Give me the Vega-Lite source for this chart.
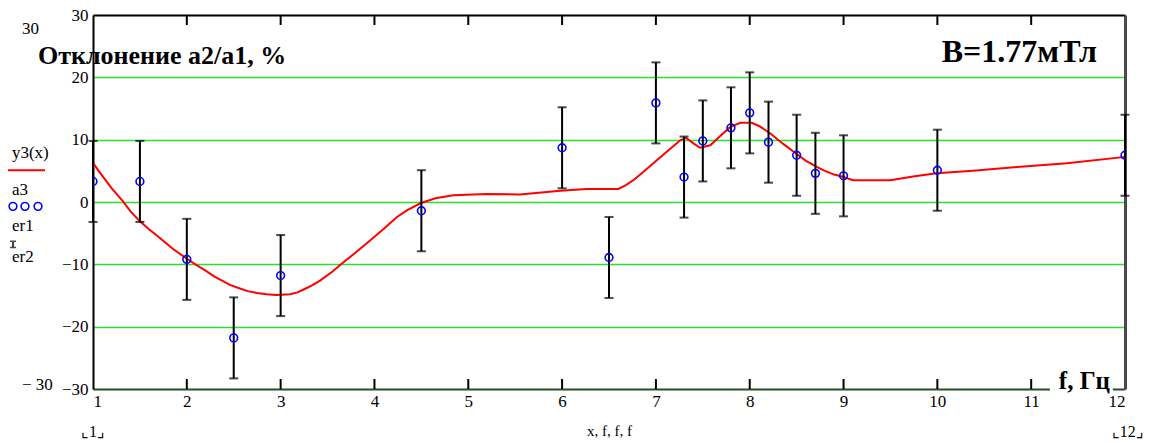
{
  "$schema": "https://vega.github.io/schema/vega-lite/v6.json",
  "width": 1032,
  "height": 374,
  "autosize": "none",
  "padding": {"left": 93, "top": 15, "right": 30, "bottom": 54},
  "background": "white",
  "config": {
    "view": {"stroke": null},
    "font": "Liberation Serif",
    "axis": {"labelFont": "Liberation Serif", "titleFont": "Liberation Serif", "labelColor": "black", "titleColor": "black"}
  },
  "datasets": {
    "curve": [
      {"x": 1.0, "y": 6.3}, {"x": 1.05, "y": 5.2}, {"x": 1.1, "y": 4.2}, {"x": 1.2, "y": 2.2}, {"x": 1.32, "y": 0.1},
      {"x": 1.4, "y": -1.5}, {"x": 1.5, "y": -3.1}, {"x": 1.6, "y": -4.4}, {"x": 1.7, "y": -5.6}, {"x": 1.85, "y": -7.5},
      {"x": 2.0, "y": -9.1}, {"x": 2.1, "y": -10.1}, {"x": 2.2, "y": -11.0}, {"x": 2.3, "y": -12.0}, {"x": 2.46, "y": -13.3},
      {"x": 2.55, "y": -13.8}, {"x": 2.65, "y": -14.3}, {"x": 2.75, "y": -14.6}, {"x": 2.85, "y": -14.8}, {"x": 2.95, "y": -14.9},
      {"x": 3.1, "y": -14.8}, {"x": 3.18, "y": -14.5}, {"x": 3.25, "y": -14.0}, {"x": 3.33, "y": -13.4}, {"x": 3.42, "y": -12.6},
      {"x": 3.55, "y": -11.2}, {"x": 3.65, "y": -9.9}, {"x": 3.8, "y": -8.1}, {"x": 3.95, "y": -6.2}, {"x": 4.1, "y": -4.3},
      {"x": 4.24, "y": -2.4}, {"x": 4.35, "y": -1.3}, {"x": 4.49, "y": -0.2}, {"x": 4.65, "y": 0.6}, {"x": 4.84, "y": 1.1},
      {"x": 5.2, "y": 1.3}, {"x": 5.55, "y": 1.2}, {"x": 5.98, "y": 1.8}, {"x": 6.26, "y": 2.1},
      {"x": 6.6, "y": 2.1}, {"x": 6.68, "y": 2.7}, {"x": 6.76, "y": 3.5}, {"x": 6.88, "y": 5.0}, {"x": 7.01, "y": 6.7},
      {"x": 7.15, "y": 8.5}, {"x": 7.26, "y": 9.9}, {"x": 7.32, "y": 10.3}, {"x": 7.4, "y": 9.4}, {"x": 7.47, "y": 8.7},
      {"x": 7.58, "y": 9.1}, {"x": 7.68, "y": 10.5}, {"x": 7.79, "y": 12.0}, {"x": 7.9, "y": 12.7}, {"x": 8.02, "y": 12.7},
      {"x": 8.1, "y": 12.2}, {"x": 8.22, "y": 11.0}, {"x": 8.35, "y": 9.4}, {"x": 8.5, "y": 7.7}, {"x": 8.6, "y": 6.6},
      {"x": 8.72, "y": 5.6}, {"x": 8.8, "y": 5.0}, {"x": 8.9, "y": 4.4},
      {"x": 9.0, "y": 4.0}, {"x": 9.1, "y": 3.5}, {"x": 9.5, "y": 3.5}, {"x": 9.74, "y": 4.1},
      {"x": 9.99, "y": 4.6}, {"x": 10.38, "y": 5.0}, {"x": 10.85, "y": 5.6}, {"x": 11.38, "y": 6.2},
      {"x": 11.98, "y": 7.2}, {"x": 12.0, "y": 7.3}
    ],
    "pts": [
      {"f": 1, "a3": 3.3, "er1": -3.2, "er2": 9.8},
      {"f": 1.5, "a3": 3.3, "er1": -3.2, "er2": 9.8},
      {"f": 2, "a3": -9.2, "er1": -15.7, "er2": -2.7},
      {"f": 2.5, "a3": -21.8, "er1": -28.3, "er2": -15.3},
      {"f": 3, "a3": -11.8, "er1": -18.3, "er2": -5.3},
      {"f": 4.5, "a3": -1.4, "er1": -7.9, "er2": 5.1},
      {"f": 6, "a3": 8.7, "er1": 2.2, "er2": 15.2},
      {"f": 6.5, "a3": -8.9, "er1": -15.4, "er2": -2.4},
      {"f": 7, "a3": 15.9, "er1": 9.4, "er2": 22.4},
      {"f": 7.3, "a3": 4.0, "er1": -2.5, "er2": 10.5},
      {"f": 7.5, "a3": 9.8, "er1": 3.3, "er2": 16.3},
      {"f": 7.8, "a3": 11.9, "er1": 5.4, "er2": 18.4},
      {"f": 8, "a3": 14.3, "er1": 7.8, "er2": 20.8},
      {"f": 8.2, "a3": 9.6, "er1": 3.1, "er2": 16.1},
      {"f": 8.5, "a3": 7.5, "er1": 1.0, "er2": 14.0},
      {"f": 8.7, "a3": 4.6, "er1": -1.9, "er2": 11.1},
      {"f": 9, "a3": 4.2, "er1": -2.3, "er2": 10.7},
      {"f": 10, "a3": 5.1, "er1": -1.4, "er2": 11.6},
      {"f": 12, "a3": 7.5, "er1": 1.0, "er2": 14.0}
    ]
  },
  "resolve": {"axis": {"x": "independent", "y": "independent"}},
  "layer": [
    {
      "data": {"name": "curve"},
      "mark": {"type": "line", "color": "#ff0000", "strokeWidth": 2, "clip": true},
      "encoding": {
        "x": {"field": "x", "type": "quantitative",
          "scale": {"domain": [1, 12], "nice": false, "zero": false},
          "axis": {"orient": "bottom", "values": [1,2,3,4,5,6,7,8,9,10,11,12], "format": "d",
            "domain": false, "ticks": false,
            "labelFontSize": 17, "labelPadding": 4, "grid": false,
            "title": "x, f, f, f", "titleFontSize": 15, "titleFontWeight": "normal", "titlePadding": 14}},
        "y": {"field": "y", "type": "quantitative",
          "scale": {"domain": [-30, 30], "nice": false, "zero": false},
          "axis": {"orient": "left", "values": [-30,-20,-10,0,10,20,30], "format": "d",
            "domainColor": "black", "domainWidth": 2, "ticks": false, "labelFontSize": 17, "labelPadding": 5,
            "grid": true,
            "gridWidth": {"condition": {"test": "abs(datum.value) >= 30", "value": 2}, "value": 1.5},
            "gridColor": {"condition": [
              {"test": "datum.value >= 30", "value": "black"},
              {"test": "datum.value <= -30", "value": "#264d26"}
            ], "value": "#2ee02e"},
            "title": null}}
      }
    },
    {
      "data": {"name": "pts"},
      "mark": {"type": "rule", "color": "black", "strokeWidth": 2},
      "encoding": {
        "x": {"field": "f", "type": "quantitative",
          "scale": {"domain": [1, 12], "nice": false, "zero": false}, "axis": null},
        "y": {"field": "er1", "type": "quantitative",
          "scale": {"domain": [-30, 30], "nice": false, "zero": false},
          "axis": {"orient": "right", "labels": false, "ticks": false, "title": null, "grid": false,
            "domainColor": "#4a4a4a", "domainWidth": 3}},
        "y2": {"field": "er2"}
      }
    },
    {
      "data": {"values": [
        {"x": 2, "y": -30, "y2": -28.4}, {"x": 3, "y": -30, "y2": -28.4}, {"x": 4, "y": -30, "y2": -28.4},
        {"x": 5, "y": -30, "y2": -28.4}, {"x": 6, "y": -30, "y2": -28.4}, {"x": 7, "y": -30, "y2": -28.4},
        {"x": 8, "y": -30, "y2": -28.4}, {"x": 9, "y": -30, "y2": -28.4}, {"x": 10, "y": -30, "y2": -28.4},
        {"x": 11, "y": -30, "y2": -28.4},
        {"x": 2, "y": 30, "y2": 28.4}, {"x": 3, "y": 30, "y2": 28.4}, {"x": 4, "y": 30, "y2": 28.4},
        {"x": 5, "y": 30, "y2": 28.4}, {"x": 6, "y": 30, "y2": 28.4}, {"x": 7, "y": 30, "y2": 28.4},
        {"x": 8, "y": 30, "y2": 28.4}, {"x": 9, "y": 30, "y2": 28.4}, {"x": 10, "y": 30, "y2": 28.4},
        {"x": 11, "y": 30, "y2": 28.4}
      ]},
      "mark": {"type": "rule", "color": "black", "strokeWidth": 2},
      "encoding": {
        "x": {"field": "x", "type": "quantitative", "scale": {"domain": [1, 12], "nice": false, "zero": false}, "axis": null},
        "y": {"field": "y", "type": "quantitative", "scale": {"domain": [-30, 30], "nice": false, "zero": false}, "axis": null},
        "y2": {"field": "y2"}
      }
    },
    {
      "data": {"name": "pts"},
      "mark": {"type": "tick", "orient": "horizontal", "color": "black", "size": 9, "thickness": 2},
      "encoding": {
        "x": {"field": "f", "type": "quantitative", "scale": {"domain": [1, 12], "nice": false, "zero": false}, "axis": null},
        "y": {"field": "er1", "type": "quantitative", "scale": {"domain": [-30, 30], "nice": false, "zero": false}, "axis": null}
      }
    },
    {
      "data": {"name": "pts"},
      "mark": {"type": "tick", "orient": "horizontal", "color": "black", "size": 9, "thickness": 2},
      "encoding": {
        "x": {"field": "f", "type": "quantitative", "scale": {"domain": [1, 12], "nice": false, "zero": false}, "axis": null},
        "y": {"field": "er2", "type": "quantitative", "scale": {"domain": [-30, 30], "nice": false, "zero": false}, "axis": null}
      }
    },
    {
      "data": {"name": "pts"},
      "mark": {"type": "point", "shape": "circle", "filled": false, "color": "#0000ff", "strokeWidth": 1.6, "size": 60, "opacity": 1, "clip": true},
      "encoding": {
        "x": {"field": "f", "type": "quantitative", "scale": {"domain": [1, 12], "nice": false, "zero": false}, "axis": null},
        "y": {"field": "a3", "type": "quantitative", "scale": {"domain": [-30, 30], "nice": false, "zero": false}, "axis": null}
      }
    },
    {
      "data": {"values": [{"x0": 11.2, "x1": 11.87, "y0": -30.6, "y1": -28.2}]},
      "mark": {"type": "rect", "color": "white"},
      "encoding": {
        "x": {"field": "x0", "type": "quantitative", "scale": {"domain": [1, 12], "nice": false, "zero": false}, "axis": null},
        "x2": {"field": "x1"},
        "y": {"field": "y0", "type": "quantitative", "scale": {"domain": [-30, 30], "nice": false, "zero": false}, "axis": null},
        "y2": {"field": "y1"}
      }
    },
    {
      "data": {"values": [{"x": 0.414, "y": 23.4, "t": "Отклонение а2/а1, %"}]},
      "mark": {"type": "text", "align": "left", "baseline": "middle", "font": "Liberation Serif", "fontWeight": "bold", "fontSize": 26, "color": "black"},
      "encoding": {
        "x": {"field": "x", "type": "quantitative", "scale": {"domain": [1, 12], "nice": false, "zero": false}, "axis": null},
        "y": {"field": "y", "type": "quantitative", "scale": {"domain": [-30, 30], "nice": false, "zero": false}, "axis": null},
        "text": {"field": "t"}
      }
    },
    {
      "data": {"values": [{"x": 11.7, "y": 24.1, "t": "B=1.77мТл"}]},
      "mark": {"type": "text", "align": "right", "baseline": "middle", "font": "Liberation Serif", "fontWeight": "bold", "fontSize": 32, "color": "black"},
      "encoding": {
        "x": {"field": "x", "type": "quantitative", "scale": {"domain": [1, 12], "nice": false, "zero": false}, "axis": null},
        "y": {"field": "y", "type": "quantitative", "scale": {"domain": [-30, 30], "nice": false, "zero": false}, "axis": null},
        "text": {"field": "t"}
      }
    },
    {
      "data": {"values": [{"x": 11.84, "y": -30.0, "t": "f, Гц"}]},
      "mark": {"type": "text", "align": "right", "baseline": "alphabetic", "font": "Liberation Serif", "fontWeight": "bold", "fontSize": 25, "color": "black"},
      "encoding": {
        "x": {"field": "x", "type": "quantitative", "scale": {"domain": [1, 12], "nice": false, "zero": false}, "axis": null},
        "y": {"field": "y", "type": "quantitative", "scale": {"domain": [-30, 30], "nice": false, "zero": false}, "axis": null},
        "text": {"field": "t"}
      }
    },
    {
      "data": {"values": [
        {"x": 0.136, "y": 7.9, "t": "y3(x)"},
        {"x": 0.136, "y": 1.9, "t": "a3"},
        {"x": 0.136, "y": -3.9, "t": "er1"},
        {"x": 0.136, "y": -8.8, "t": "er2"},
        {"x": 0.243, "y": 27.8, "t": "30"},
        {"x": 0.243, "y": -29.4, "t": "− 30"}
      ]},
      "mark": {"type": "text", "align": "left", "baseline": "middle", "font": "Liberation Serif", "fontSize": 17, "color": "black"},
      "encoding": {
        "x": {"field": "x", "type": "quantitative", "scale": {"domain": [1, 12], "nice": false, "zero": false}, "axis": null},
        "y": {"field": "y", "type": "quantitative", "scale": {"domain": [-30, 30], "nice": false, "zero": false}, "axis": null},
        "text": {"field": "t"}
      }
    },
    {
      "data": {"values": [
        {"x": 1.0, "y": -36.9, "t": "⌞1⌟"},
        {"x": 12.03, "y": -36.9, "t": "⌞12⌟"}
      ]},
      "mark": {"type": "text", "align": "center", "baseline": "middle", "font": "Liberation Serif", "fontSize": 16, "color": "black"},
      "encoding": {
        "x": {"field": "x", "type": "quantitative", "scale": {"domain": [1, 12], "nice": false, "zero": false}, "axis": null},
        "y": {"field": "y", "type": "quantitative", "scale": {"domain": [-30, 30], "nice": false, "zero": false}, "axis": null},
        "text": {"field": "t"}
      }
    },
    {
      "data": {"values": [{"x": 0.147, "y0": -6.4, "y1": -7.2}]},
      "mark": {"type": "rule", "color": "black", "strokeWidth": 1.5},
      "encoding": {
        "x": {"field": "x", "type": "quantitative", "scale": {"domain": [1, 12], "nice": false, "zero": false}, "axis": null},
        "y": {"field": "y0", "type": "quantitative", "scale": {"domain": [-30, 30], "nice": false, "zero": false}, "axis": null},
        "y2": {"field": "y1"}
      }
    },
    {
      "data": {"values": [{"x": 0.147, "y": -6.3}, {"x": 0.147, "y": -7.3}]},
      "mark": {"type": "tick", "orient": "horizontal", "color": "black", "size": 6, "thickness": 1.5},
      "encoding": {
        "x": {"field": "x", "type": "quantitative", "scale": {"domain": [1, 12], "nice": false, "zero": false}, "axis": null},
        "y": {"field": "y", "type": "quantitative", "scale": {"domain": [-30, 30], "nice": false, "zero": false}, "axis": null}
      }
    },
    {
      "data": {"values": [{"x": 0.094, "x2": 0.488, "y": 5.1}]},
      "mark": {"type": "rule", "color": "#ff0000", "strokeWidth": 2},
      "encoding": {
        "x": {"field": "x", "type": "quantitative", "scale": {"domain": [1, 12], "nice": false, "zero": false}, "axis": null},
        "x2": {"field": "x2"},
        "y": {"field": "y", "type": "quantitative", "scale": {"domain": [-30, 30], "nice": false, "zero": false}, "axis": null}
      }
    },
    {
      "data": {"values": [{"x": 0.147, "y": -0.7}, {"x": 0.275, "y": -0.7}, {"x": 0.414, "y": -0.7}]},
      "mark": {"type": "point", "shape": "circle", "filled": false, "color": "#0000ff", "strokeWidth": 1.6, "size": 60, "opacity": 1},
      "encoding": {
        "x": {"field": "x", "type": "quantitative", "scale": {"domain": [1, 12], "nice": false, "zero": false}, "axis": null},
        "y": {"field": "y", "type": "quantitative", "scale": {"domain": [-30, 30], "nice": false, "zero": false}, "axis": null}
      }
    }
  ]
}
